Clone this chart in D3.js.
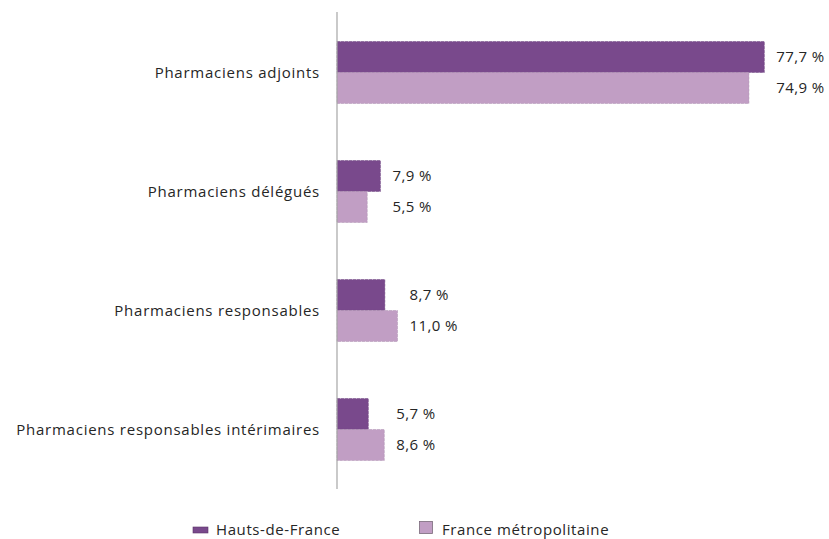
<!DOCTYPE html>
<html>
<head>
<meta charset="utf-8">
<script src="https://cdn.jsdelivr.net/npm/d3@7"></script>
<style>
  body { margin: 0; background: #fff; }
  text { font-family: "Open Sans", sans-serif; fill: #262626; }
</style>
</head>
<body>
<div class="chart"></div>
<script>
// Data
const categories = [
    "Pharmaciens adjoints",
    "Pharmaciens délégués",
    "Pharmaciens responsables",
    "Pharmaciens responsables intérimaires"
];
const seriesNames = ["Hauts-de-France", "France métropolitaine"];
const hautsDeFrance = [77.7, 7.9, 8.7, 5.7];
const franceMetro = [74.9, 5.5, 11.0, 8.6];
const colors = ["#79498c", "#c19ec4"];

const width = 829;
const height = 539;

const svg = d3.select('.chart')
    .append('svg')
    .attr('width', width)
    .attr('height', height);

// Scales
const x = d3.scaleLinear()
    .domain([0, 80])
    .range([337, 777]);

const y = d3.scaleBand()
    .domain(categories)
    .range([13, 489])
    .paddingInner(0.479)
    .paddingOuter(0.2395);

const ySub = d3.scaleBand()
    .domain(seriesNames)
    .range([0, y.bandwidth()]);

const fmt = v => d3.format(".1f")(v).replace(".", ",") + " %";

const rows = categories.map((c, i) => ({
    cat: c,
    values: [hautsDeFrance[i], franceMetro[i]]
}));

// Groups
const group = svg.selectAll('.group')
    .data(rows)
    .join('g')
    .attr('class', 'group')
    .attr('transform', d => `translate(0, ${y(d.cat)})`);

group.selectAll('rect')
    .data(d => d.values.map((v, j) => ({ v, s: seriesNames[j], j })))
    .join('rect')
    .attr('x', x(0))
    .attr('y', d => ySub(d.s))
    .attr('width', d => x(d.v) - x(0))
    .attr('height', ySub.bandwidth())
    .attr('fill', d => colors[d.j])
    .attr('stroke', d => d3.color(colors[d.j]).darker(0.3))
    .attr('stroke-width', 0.5)
    .attr('stroke-dasharray', '3,1');

// Value labels, aligned after the longest bar of the group
group.each(function (d) {
    const lx = x(d3.max(d.values)) + 12;
    d3.select(this).selectAll('.val')
        .data(d.values.map((v, j) => ({ v, s: seriesNames[j] })))
        .join('text')
        .attr('class', 'val')
        .attr('x', lx)
        .attr('y', e => ySub(e.s) + ySub.bandwidth() / 2)
        .attr('dy', '0.35em')
        .attr('font-size', 15)
        .attr('letter-spacing', 0.4)
        .text(e => fmt(e.v));
});

// Category labels
svg.selectAll('.cat')
    .data(categories)
    .join('text')
    .attr('class', 'cat')
    .attr('x', 320)
    .attr('y', d => y(d) + y.bandwidth() / 2)
    .attr('dy', '0.35em')
    .attr('text-anchor', 'end')
    .attr('font-size', 15)
    .attr('letter-spacing', 0.75)
    .text(d => d);

// Axis line
svg.append('line')
    .attr('x1', x(0))
    .attr('x2', x(0))
    .attr('y1', 12)
    .attr('y2', 489)
    .attr('stroke', '#a6a6a6')
    .attr('stroke-width', 1.2);

// Legend
const legend = svg.append('g');
legend.append('rect')
    .attr('x', 193).attr('y', 527)
    .attr('width', 15).attr('height', 6)
    .attr('fill', colors[0])
    .attr('stroke', '#5a3368').attr('stroke-width', 0.6);
legend.append('text')
    .attr('x', 216).attr('y', 535)
    .attr('font-size', 15)
    .attr('letter-spacing', 0.6)
    .text(seriesNames[0]);
legend.append('rect')
    .attr('x', 419.5).attr('y', 521.5)
    .attr('width', 13).attr('height', 12)
    .attr('fill', colors[1])
    .attr('stroke', '#7a6a7c').attr('stroke-width', 0.8);
legend.append('text')
    .attr('x', 442).attr('y', 535)
    .attr('font-size', 15)
    .attr('letter-spacing', 0.6)
    .text(seriesNames[1]);
</script>
</body>
</html>
